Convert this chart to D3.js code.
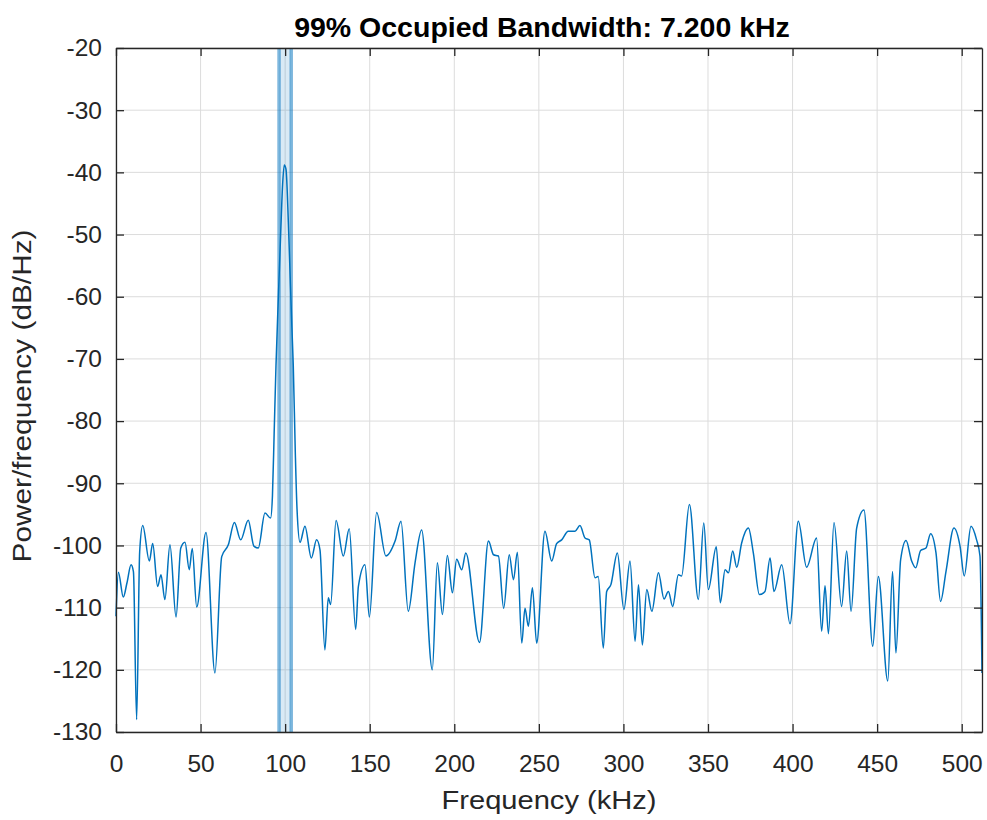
<!DOCTYPE html>
<html><head><meta charset="utf-8">
<script src="https://cdn.jsdelivr.net/npm/d3@7"></script>
<style>
html,body{margin:0;padding:0;background:#fff;}
svg text{font-family:"Liberation Sans",Arial,Helvetica,sans-serif;fill:#262626;}
</style></head><body>
<svg id="chart" width="987" height="820"></svg>
<script>
// Data (frequency in kHz, PSD in dB/Hz)
const freqs = [0,1.4,4.3,6.5,8.9,10.3,12.2,14,15.8,19.7,21.7,24.6,26.6,28.9,31.9,35.5,38.3,40.8,43.3,45.1,47.7,53.2,58.5,62.5,66.4,70,73.7,78.2,81.5,84.1,88.1,91.4,92.5,93.5,94.6,96,97.4,98.5,99.5,100.5,101.9,103,104,104.8,106,107,108.8,111.7,115.5,118.6,120.6,123.5,125.5,126.9,130.1,134.4,137.9,141.7,143.3,147.2,149.8,154.1,159.6,165,168.5,172.8,176.8,180.7,187,190,193,195.9,198.9,201.4,204.4,206.8,214.9,220.2,223.2,226.1,229.2,232.5,235,237.3,239.9,241.8,243.8,246.2,248.7,253.6,257.6,260.5,263.5,267.4,271.4,274.3,277.3,279.8,283.2,285.1,288.1,290.1,292.6,296.4,300.3,303.9,306.9,308.9,311.2,313.8,316.8,320.7,324,326.6,329.1,332.5,334.4,339,344.3,347.5,350.2,354.9,357.3,360.1,362.1,364.6,367,369.9,373.9,376.8,380.4,383.7,386.7,389,393.6,398.5,403.4,408.3,414.2,417.2,419.2,421.2,424.5,429,432,434.6,437.9,442.2,447.4,450.7,456.3,459.1,461.1,463.9,467.1,470.4,472.8,475.7,478.9,481.6,484.8,487.5,490.7,495.4,499,501.5,505.5,508.8,510.8,512];
const psd = [-111.4,-104.3,-108.3,-106,-103.1,-104.2,-128,-101,-96.8,-102.5,-99.7,-106.6,-104.7,-108.7,-99.9,-111.5,-100.4,-99.5,-103.9,-100.5,-109.9,-97.9,-120.5,-101.8,-99.9,-96.3,-99.1,-95.95,-100.1,-100.4,-94.8,-95.6,-92,-82,-71,-60,-49.5,-42,-38.8,-39.5,-48,-57,-65,-71,-85,-94,-99.5,-96.9,-102,-99.1,-100.7,-116.8,-108.4,-109.5,-96,-101.7,-97.3,-113.5,-106.6,-103.1,-111.5,-94.7,-101.7,-99.3,-96.1,-110.6,-102.8,-97.5,-120,-102.8,-111.1,-101.6,-107.6,-102.2,-103.9,-101.2,-115.6,-99.3,-101.5,-101.7,-110.1,-101.5,-105.5,-101.1,-115.7,-110.1,-113,-106.8,-115.7,-97.7,-102.5,-99.7,-99.1,-97.7,-97.7,-96.8,-98.8,-99.1,-105.2,-105,-116.5,-107.4,-106.3,-101.2,-110.3,-102.5,-115.4,-106.3,-116,-107.1,-110.6,-104.4,-108.6,-107.4,-109.8,-104.7,-104.9,-93.4,-108.7,-96.4,-107.1,-100.2,-109.2,-103.9,-104.4,-100.9,-103.5,-99.6,-97.2,-101.2,-107.9,-107.4,-102,-107.4,-103.1,-112.6,-96.1,-103.5,-98.8,-113.8,-106.5,-114.2,-96.3,-109.8,-100.9,-110.6,-97.2,-94.3,-116.2,-105,-121.8,-104.2,-117.3,-102.3,-99.2,-102.5,-103.6,-100.8,-100.4,-98.1,-101.2,-109,-104.2,-97.2,-100.1,-104.9,-96.9,-99.1,-101.7,-120.5];
const band = [96.4, 103.6];
const xTicks = [0,50,100,150,200,250,300,350,400,450,500];
const yTicks = [-20,-30,-40,-50,-60,-70,-80,-90,-100,-110,-120,-130];
const titleText = "99% Occupied Bandwidth: 7.200 kHz";
const xLabelText = "Frequency (kHz)";
const yLabelText = "Power/frequency (dB/Hz)";

const svg = d3.select("#chart");
const L = 116, R = 982, T = 48, B = 732;
const x = d3.scaleLinear().domain([0, 512]).range([L, R]);
const y = d3.scaleLinear().domain([-130, -20]).range([B, T]);
const axisColor = "#262626";

// grid
const g = svg.append("g");
g.selectAll(".vg").data(xTicks).enter().append("line")
  .attr("x1", d => x(d)).attr("x2", d => x(d)).attr("y1", T).attr("y2", B)
  .attr("stroke", "#dcdcdc").attr("stroke-width", 1);
g.selectAll(".hg").data(yTicks).enter().append("line")
  .attr("y1", d => y(d)).attr("y2", d => y(d)).attr("x1", L).attr("x2", R)
  .attr("stroke", "#dcdcdc").attr("stroke-width", 1);

// band
svg.append("rect").attr("x", x(band[0])).attr("y", T)
  .attr("width", x(band[1]) - x(band[0])).attr("height", B - T)
  .attr("fill", "#0072BD").attr("fill-opacity", 0.15);
svg.selectAll(".bl").data(band).enter().append("line")
  .attr("x1", d => x(d)).attr("x2", d => x(d)).attr("y1", T).attr("y2", B)
  .attr("stroke", "#0072BD").attr("stroke-opacity", 0.5).attr("stroke-width", 3.5);

// line
const data = freqs.map((f, i) => [f, psd[i]]);
svg.append("path").datum(data)
  .attr("fill", "none").attr("stroke", "#0072BD").attr("stroke-width", 1.5)
  .attr("stroke-linejoin", "round")
  .attr("d", d3.line().x(d => x(d[0])).y(d => y(d[1])).curve(d3.curveMonotoneX));

// axes
const xAxis = svg.append("g").attr("transform", `translate(0,${B})`)
  .call(d3.axisBottom(x).tickValues(xTicks).tickSizeInner(-8).tickSizeOuter(0).tickPadding(23));
const xAxisTop = svg.append("g").attr("transform", `translate(0,${T})`)
  .call(d3.axisTop(x).tickValues(xTicks).tickSizeInner(-8).tickSizeOuter(0).tickFormat(""));
const yAxis = svg.append("g").attr("transform", `translate(${L},0)`)
  .call(d3.axisLeft(y).tickValues(yTicks).tickSizeInner(-8).tickSizeOuter(0).tickPadding(14));
const yAxisR = svg.append("g").attr("transform", `translate(${R},0)`)
  .call(d3.axisRight(y).tickValues(yTicks).tickSizeInner(-8).tickSizeOuter(0).tickFormat(""));
[xAxis, xAxisTop, yAxis, yAxisR].forEach(a => {
  a.select(".domain").attr("stroke", axisColor).attr("stroke-width", 1.3);
  a.selectAll(".tick line").attr("stroke", axisColor).attr("stroke-width", 1.3);
  a.selectAll(".tick text").attr("font-size", 24.5).attr("fill", axisColor)
    .style("font-family", "'Liberation Sans',Arial,sans-serif");
});
yAxis.selectAll(".tick text").text(d => d < 0 ? "-" + Math.abs(d) : d);

svg.append("text").attr("x", 542).attr("y", 37).attr("text-anchor", "middle")
  .attr("font-size", 28.5).attr("font-weight", "bold").attr("fill", "#000").style("fill", "#000").text(titleText);
svg.append("text").attr("x", 549).attr("y", 809).attr("text-anchor", "middle")
  .attr("font-size", 25).attr("textLength", 215).attr("lengthAdjust", "spacingAndGlyphs").text(xLabelText);
svg.append("text").attr("transform", `translate(31,396) rotate(-90)`)
  .attr("text-anchor", "middle").attr("font-size", 25).attr("textLength", 333)
  .attr("lengthAdjust", "spacingAndGlyphs").text(yLabelText);
</script>
</body></html>
